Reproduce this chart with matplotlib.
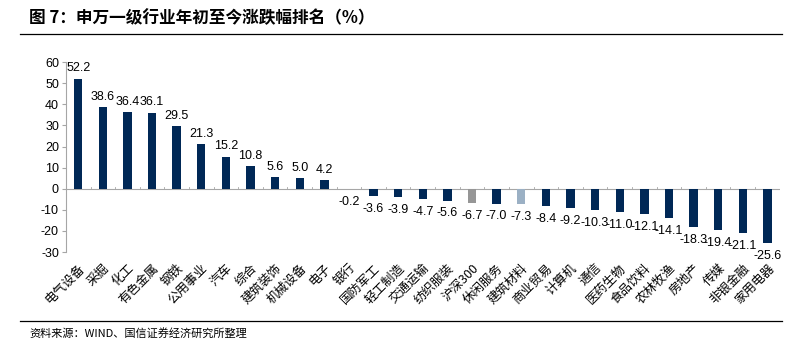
import matplotlib
matplotlib.use("Agg")
import matplotlib.pyplot as plt
from matplotlib.lines import Line2D

plt.rcParams["font.family"] = ["Noto Sans CJK SC", "DejaVu Sans"]

CATEGORIES = [
    "电气设备", "采掘", "化工", "有色金属", "钢铁", "公用事业", "汽车", "综合",
    "建筑装饰", "机械设备", "电子", "银行", "国防军工", "轻工制造", "交通运输",
    "纺织服装", "沪深300", "休闲服务", "建筑材料", "商业贸易", "计算机", "通信",
    "医药生物", "食品饮料", "农林牧渔", "房地产", "传媒", "非银金融", "家用电器",
]
VALUES = [
    52.2, 38.6, 36.4, 36.1, 29.5, 21.3, 15.2, 10.8, 5.6, 5.0, 4.2, -0.2, -3.6,
    -3.9, -4.7, -5.6, -6.7, -7.0, -7.3, -8.4, -9.2, -10.3, -11.0, -12.1, -14.1,
    -18.3, -19.4, -21.1, -25.6,
]
Y_TICKS = [-30, -20, -10, 0, 10, 20, 30, 40, 50, 60]

NAVY = "#002856"
SPECIAL = {"沪深300": "#969696", "建筑材料": "#9BB0C4"}
AXIS = "#A6A6A6"
NUM_FONT = "Liberation Sans"

fig = plt.figure(figsize=(7.94, 3.53), dpi=100)
ax = fig.add_axes([0.083, 0.286, 0.899, 0.538])

x = list(range(len(CATEGORIES)))
colors = [SPECIAL.get(c, NAVY) for c in CATEGORIES]
ax.bar(x, VALUES, width=0.34, color=colors, zorder=2)

for xi, v in zip(x, VALUES):
    if v >= 0:
        ax.annotate(f"{v:.1f}", xy=(xi, v), xytext=(0, 3), textcoords="offset points",
                    ha="center", va="bottom", fontsize=9, family=NUM_FONT)
    else:
        ax.annotate(f"{v:.1f}", xy=(xi, v), xytext=(0, -5), textcoords="offset points",
                    ha="center", va="top", fontsize=9, family=NUM_FONT)

ax.set_xlim(-0.5, len(CATEGORIES) - 0.5)
ax.set_ylim(-30, 60)
ax.set_yticks(Y_TICKS)
ax.set_yticklabels([str(t) for t in Y_TICKS], fontsize=9, family=NUM_FONT)
ax.tick_params(axis="y", length=3, color=AXIS, pad=2)

for s in ("top", "right", "bottom"):
    ax.spines[s].set_visible(False)
ax.spines["left"].set_color(AXIS)
ax.axhline(0, color=AXIS, linewidth=0.8, zorder=1)
# category boundary ticks on the zero line
for b in range(len(CATEGORIES) + 1):
    ax.plot([b - 0.5, b - 0.5], [0, 0.9], color=AXIS, linewidth=0.6, zorder=1)

ax.set_xticks(x)
ax.set_xticklabels(CATEGORIES, rotation=45, ha="right", va="top",
                   rotation_mode="anchor", fontsize=9)
ax.tick_params(axis="x", length=0, pad=7)

fig.text(0.037, 0.948, "图 7：申万一级行业年初至今涨跌幅排名（%）", fontsize=12,
         fontweight="bold", va="center")
fig.add_artist(Line2D([0.025, 0.985], [0.905, 0.905], color="black", linewidth=0.9))
fig.add_artist(Line2D([0.025, 0.985], [0.09, 0.09], color="black", linewidth=0.9))
fig.text(0.037, 0.055, "资料来源：WIND、国信证券经济研究所整理", fontsize=8, va="center")

fig.savefig("out.png", dpi=100)
